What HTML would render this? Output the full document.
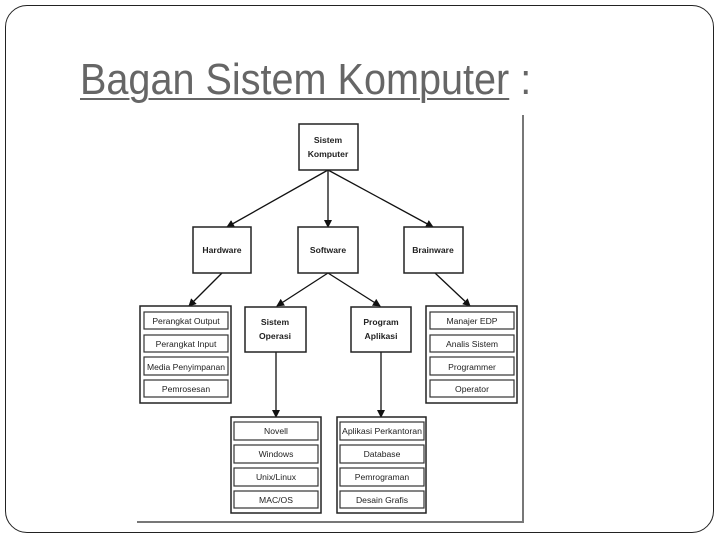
<!DOCTYPE html>
<html><head><meta charset="utf-8"><style>
html,body{margin:0;padding:0;background:#fff;}
body{width:720px;height:540px;position:relative;overflow:hidden;font-family:"Liberation Sans",sans-serif;}
.slide{position:absolute;left:5px;top:5px;width:709px;height:528px;border:1.5px solid #222;border-radius:22px;box-sizing:border-box;}
.title{position:absolute;left:80px;top:58px;font-size:44px;line-height:44px;color:#666;transform:scaleX(0.9);transform-origin:0 0;white-space:nowrap;}
.title u{text-decoration-thickness:2px;text-underline-offset:4px;}
svg{position:absolute;left:0;top:0;}
svg text{font-family:"Liberation Sans",sans-serif;font-size:8.6px;fill:#222;text-anchor:middle;}
</style></head><body>
<div class="slide"></div>
<div class="title"><u>Bagan Sistem Komputer</u> :</div>
<svg width="720" height="540" viewBox="0 0 720 540">
<defs><marker id="a" markerWidth="8" markerHeight="8" refX="7" refY="4" orient="auto" markerUnits="userSpaceOnUse"><path d="M0,0 L8,4 L0,8 z" fill="#111"/></marker></defs>
<line x1="523" y1="115" x2="523" y2="523" stroke="#777" stroke-width="2"/>
<line x1="137" y1="522" x2="523" y2="522" stroke="#777" stroke-width="2"/>
<g stroke="#111" stroke-width="1.3" fill="none">
<line x1="328" y1="170" x2="227" y2="227" marker-end="url(#a)"/>
<line x1="328" y1="170" x2="328" y2="227" marker-end="url(#a)"/>
<line x1="328" y1="170" x2="433" y2="227" marker-end="url(#a)"/>
<line x1="222" y1="273" x2="189" y2="306" marker-end="url(#a)"/>
<line x1="328" y1="273" x2="277" y2="306" marker-end="url(#a)"/>
<line x1="328" y1="273" x2="380" y2="306" marker-end="url(#a)"/>
<line x1="435" y1="273" x2="470" y2="306" marker-end="url(#a)"/>
<line x1="276" y1="352" x2="276" y2="417" marker-end="url(#a)"/>
<line x1="381" y1="352" x2="381" y2="417" marker-end="url(#a)"/>
</g>
<g stroke="#222" stroke-width="1.5" fill="#fff">
<rect x="299" y="124" width="59" height="46"/>
<rect x="193" y="227" width="58" height="46"/>
<rect x="298" y="227" width="60" height="46"/>
<rect x="404" y="227" width="59" height="46"/>
<rect x="245" y="307" width="61" height="45"/>
<rect x="351" y="307" width="60" height="45"/>
<rect x="140" y="306" width="91" height="97"/>
<rect x="426" y="306" width="91" height="97"/>
<rect x="231" y="417" width="90" height="96"/>
<rect x="337" y="417" width="89" height="96"/>
</g>
<g stroke="#333" stroke-width="1.2" fill="#fff">
<rect x="144" y="312" width="84" height="17"/><rect x="144" y="335" width="84" height="17"/><rect x="144" y="357" width="84" height="18"/><rect x="144" y="380" width="84" height="17"/>
<rect x="430" y="312" width="84" height="17"/><rect x="430" y="335" width="84" height="17"/><rect x="430" y="357" width="84" height="18"/><rect x="430" y="380" width="84" height="17"/>
<rect x="234" y="422" width="84" height="18"/><rect x="234" y="445" width="84" height="18"/><rect x="234" y="468" width="84" height="18"/><rect x="234" y="491" width="84" height="17"/>
<rect x="340" y="422" width="84" height="18"/><rect x="340" y="445" width="84" height="18"/><rect x="340" y="468" width="84" height="18"/><rect x="340" y="491" width="84" height="17"/>
</g>
<text x="328" y="143" style="font-weight:bold">Sistem</text><text x="328" y="157" style="font-weight:bold">Komputer</text>
<text x="222" y="253" style="font-weight:bold">Hardware</text>
<text x="328" y="253" style="font-weight:bold">Software</text>
<text x="433" y="253" style="font-weight:bold">Brainware</text>
<text x="275" y="325" style="font-weight:bold">Sistem</text><text x="275" y="339" style="font-weight:bold">Operasi</text>
<text x="381" y="325" style="font-weight:bold">Program</text><text x="381" y="339" style="font-weight:bold">Aplikasi</text>
<text x="186" y="324">Perangkat Output</text><text x="186" y="347">Perangkat Input</text><text x="186" y="370" textLength="78" lengthAdjust="spacingAndGlyphs">Media Penyimpanan</text><text x="186" y="392">Pemrosesan</text>
<text x="472" y="324">Manajer EDP</text><text x="472" y="347">Analis Sistem</text><text x="472" y="370">Programmer</text><text x="472" y="392">Operator</text>
<text x="276" y="434">Novell</text><text x="276" y="457">Windows</text><text x="276" y="480">Unix/Linux</text><text x="276" y="503">MAC/OS</text>
<text x="382" y="434" textLength="80" lengthAdjust="spacingAndGlyphs">Aplikasi Perkantoran</text><text x="382" y="457">Database</text><text x="382" y="480">Pemrograman</text><text x="382" y="503">Desain Grafis</text>
</svg>
</body></html>
